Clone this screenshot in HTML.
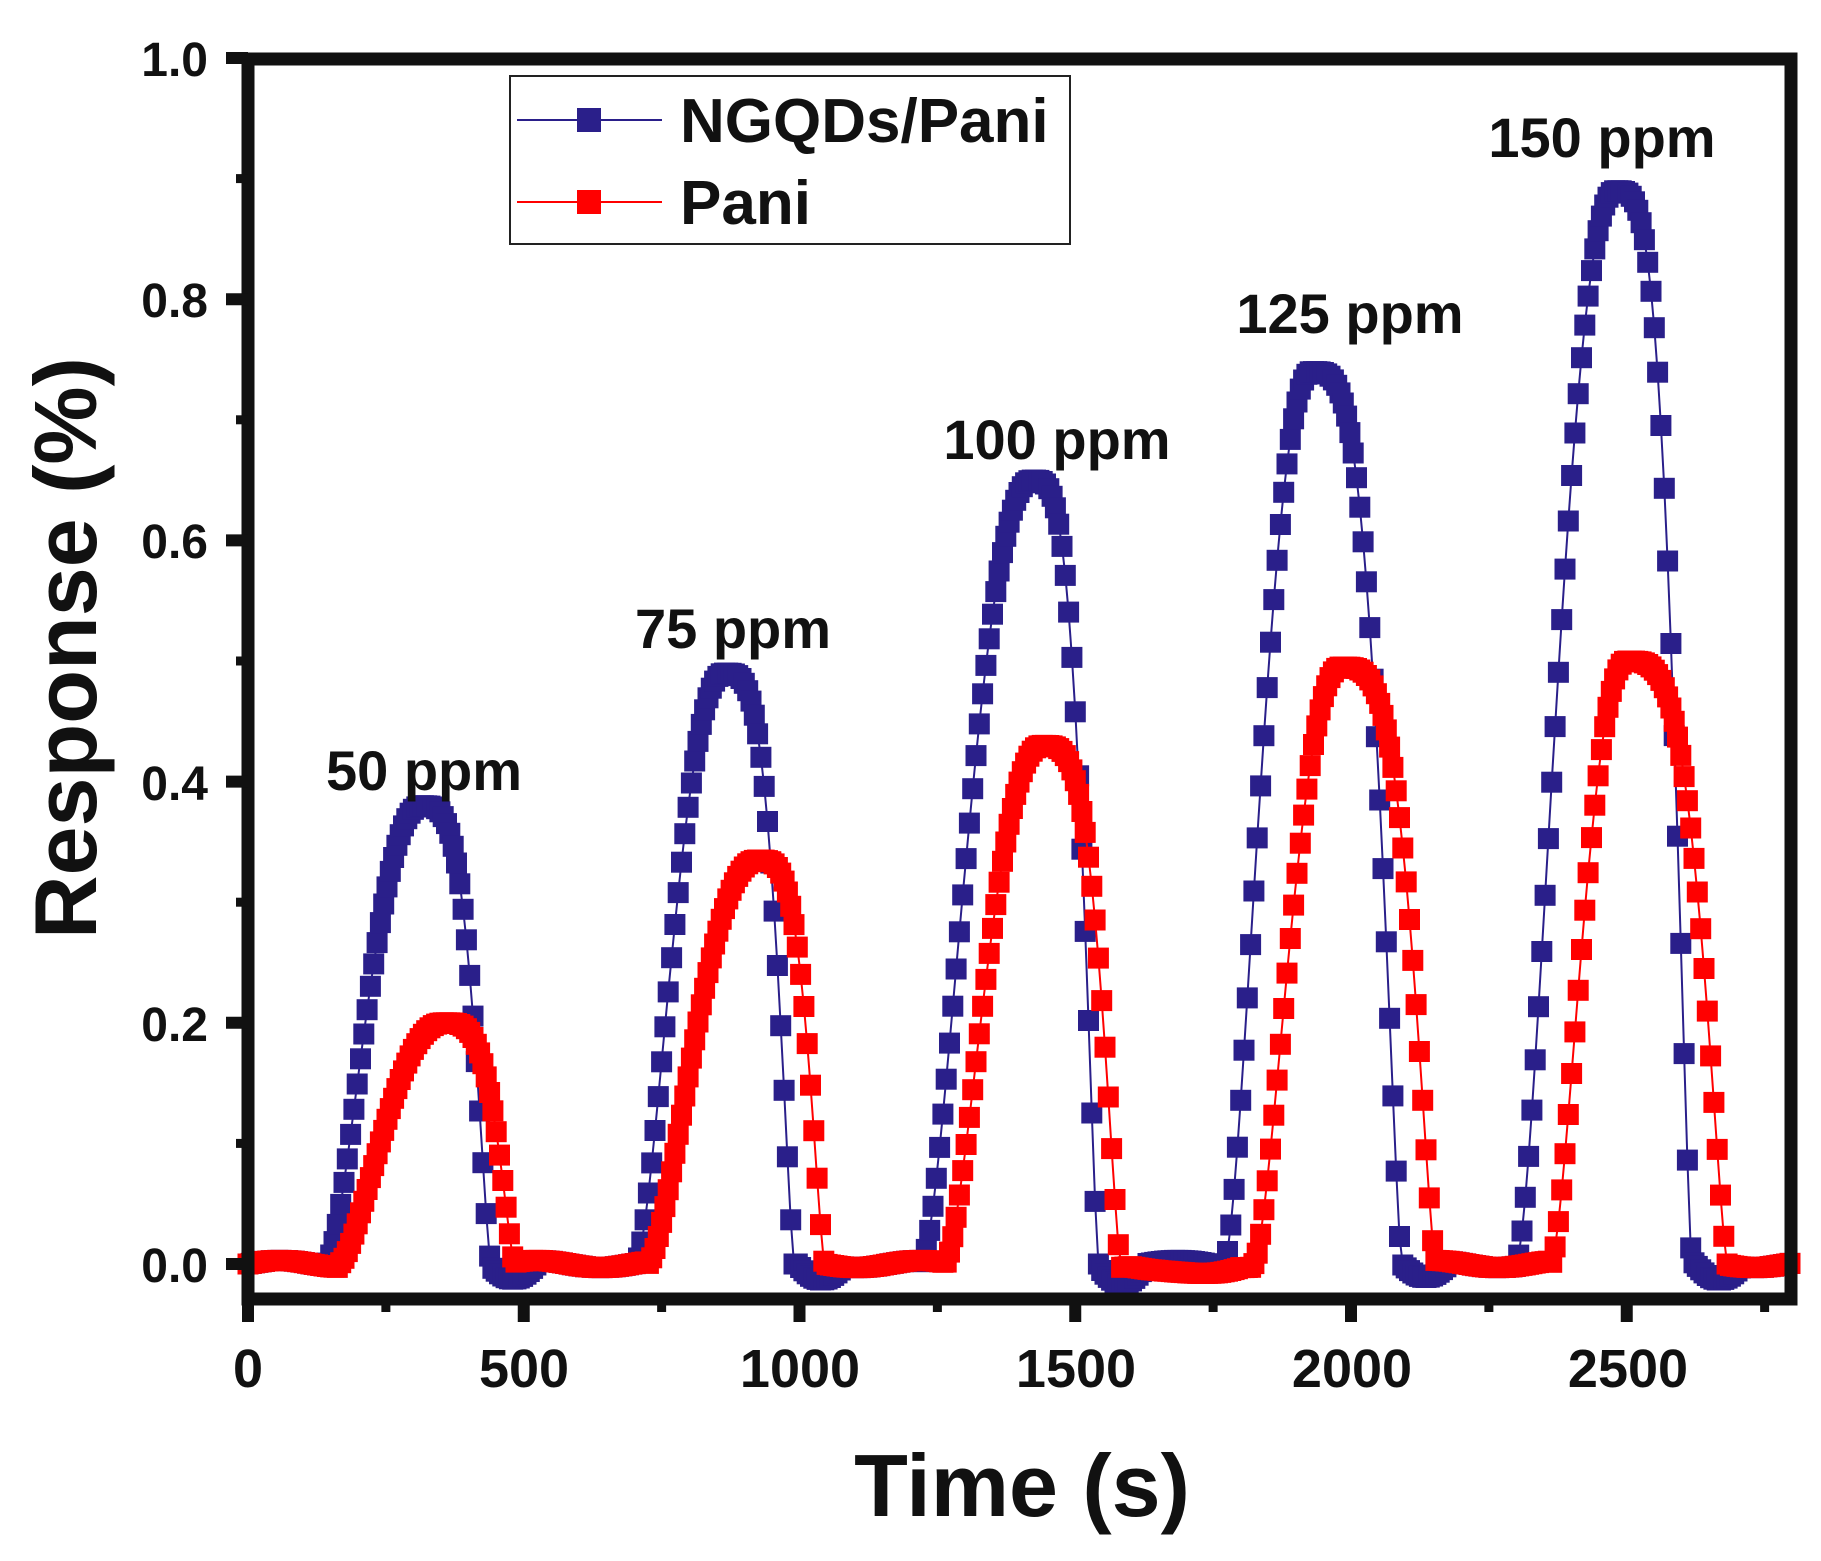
<!DOCTYPE html>
<html><head><meta charset="utf-8">
<style>
html,body{margin:0;padding:0;background:#fff;}
svg{display:block;}
text{font-family:"Liberation Sans",Arial,sans-serif;font-weight:bold;fill:#111;}
</style></head>
<body>
<svg id="s" width="1821" height="1561" viewBox="0 0 1821 1561" xmlns="http://www.w3.org/2000/svg">
<rect width="1821" height="1561" fill="#fff"/>
<g id="data"></g>
<rect x="248" y="59" width="1543" height="1240" fill="none" stroke="#111" stroke-width="13"/>
<g id="ticks" stroke="#111"></g>
<g font-size="48" text-anchor="end">
<text x="208" y="1282">0.0</text>
<text x="208" y="1041">0.2</text>
<text x="208" y="800">0.4</text>
<text x="208" y="558">0.6</text>
<text x="208" y="317">0.8</text>
<text x="208" y="76">1.0</text>
</g>
<g font-size="54" text-anchor="middle">
<text x="248" y="1387">0</text>
<text x="524" y="1387">500</text>
<text x="800" y="1387">1000</text>
<text x="1076" y="1387">1500</text>
<text x="1352" y="1387">2000</text>
<text x="1628" y="1387">2500</text>
</g>
<text x="1022" y="1516" font-size="88" text-anchor="middle">Time (s)</text>
<text transform="translate(96,648) rotate(-90)" font-size="88" text-anchor="middle">Response (%)</text>
<g font-size="56" text-anchor="middle">
<text x="424" y="790">50 ppm</text>
<text x="733" y="648">75 ppm</text>
<text x="1057" y="459">100 ppm</text>
<text x="1350" y="333">125 ppm</text>
<text x="1602" y="157">150 ppm</text>
</g>
<rect x="510" y="76" width="560" height="168" fill="#fff" stroke="#222" stroke-width="2"/>
<line x1="517" y1="120" x2="662" y2="120" stroke="#2a1f8a" stroke-width="2"/>
<rect x="577" y="108" width="24" height="24" fill="#2a1f8a"/>
<text x="680" y="142" font-size="62">NGQDs/Pani</text>
<line x1="517" y1="202" x2="662" y2="202" stroke="#ff0000" stroke-width="2"/>
<rect x="577" y="190" width="24" height="24" fill="#ff0000"/>
<text x="680" y="224" font-size="62">Pani</text>
</svg>
<script>
(function(){
var NS="http://www.w3.org/2000/svg";
function X(t){return 248+0.5515*t;}
function Y(v){return 1264-1206*v;}
var tk=document.getElementById('ticks');
function ln(x1,y1,x2,y2,w){var l=document.createElementNS(NS,'line');l.setAttribute('x1',x1);l.setAttribute('y1',y1);l.setAttribute('x2',x2);l.setAttribute('y2',y2);l.setAttribute('stroke-width',w);tk.appendChild(l);}
for(var i=0;i<=5;i++){var y=Y(i*0.2);ln(226,y,248,y,12);}
for(var i=0;i<5;i++){var y=Y(i*0.2+0.1);ln(236,y,248,y,9);}
for(var t=0;t<=2500;t+=500){ln(X(t),1299,X(t),1322,12);}
for(var t=250;t<=2750;t+=500){ln(X(t),1299,X(t),1312,9);}
function series(peaks,undershoot){
  return function(t){
    var v=0.003*Math.sin(t/37);
    for(var i=0;i<peaks.length;i++){
      var p=peaks[i],s=p[0],pk=p[1],e=p[2],h=p[3];
      if(t>=s&&t<=e){
        var f;
        if(t<pk){var u=(pk-t)/(pk-s);f=Math.pow(Math.max(0,1-Math.pow(u,2.2)),1.7);}
        else{var u=(t-pk)/(e-pk);f=Math.pow(Math.max(0,1-Math.pow(u,3.5)),1.4);}
        return h*f;
      }
      if(undershoot&&t>e&&t<e+90){v-=0.014*Math.sin(Math.PI*(t-e)/90);}
    }
    return v;
  };
}
var ng=series([[142,315,440,0.38],[703,864,990,0.49],[1221,1422,1542,0.65],[1770,1929,2092,0.74],[2299,2480,2618,0.89]],true);
var pa=series([[164,356,483,0.20],[724,925,1045,0.335],[1263,1440,1582,0.43],[1823,1982,2153,0.495],[2362,2500,2682,0.50]],false);
var g=document.getElementById('data');
function draw(f,col,extra){
  var pts=[],d='';
  for(var t=0;t<=2800;t+=6){
    var v=f(t); if(extra) v+=extra(t);
    var x=X(t),y=Y(v);
    pts.push([x,y]); d+=(d?'L':'M')+x.toFixed(1)+' '+y.toFixed(1);
  }
  var p=document.createElementNS(NS,'path');p.setAttribute('d',d);p.setAttribute('fill','none');p.setAttribute('stroke',col);p.setAttribute('stroke-width','2');g.appendChild(p);
  for(var i=0;i<pts.length;i++){
    var r=document.createElementNS(NS,'rect');
    r.setAttribute('x',(pts[i][0]-10.5).toFixed(1));r.setAttribute('y',(pts[i][1]-10.5).toFixed(1));
    r.setAttribute('width',21);r.setAttribute('height',21);r.setAttribute('fill',col);g.appendChild(r);
  }
}
draw(ng,'#2a1f8a');
draw(pa,'#ff0000',function(t){return (t>1600&&t<1800)?-0.01*Math.sin(Math.PI*(t-1600)/200):0;});
})();
</script>
</body></html>
